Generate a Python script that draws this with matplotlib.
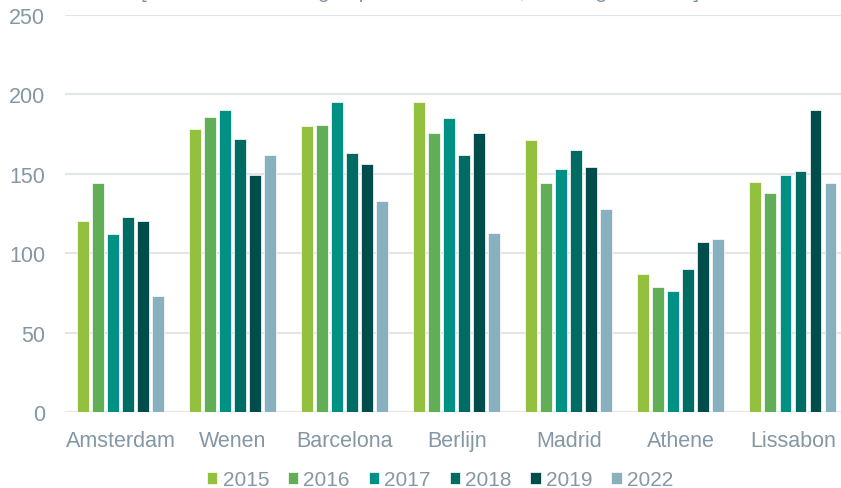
import matplotlib.pyplot as plt
import numpy as np

steden = ['Amsterdam', 'Wenen', 'Barcelona', 'Berlijn', 'Madrid', 'Athene', 'Lissabon']
jaren = ['2015', '2016', '2017', '2018', '2019', '2022']
w2015 = [120, 178, 180, 195, 171, 87, 145]
w2016 = [144, 186, 181, 176, 144, 79, 138]
w2017 = [112, 190, 195, 185, 153, 76, 149]
w2018 = [123, 172, 163, 162, 165, 90, 152]
w2019 = [120, 149, 156, 176, 154, 107, 190]
w2022 = [73, 162, 133, 113, 128, 109, 144]
kleuren = ['#93c13e', '#61ae56', '#009084', '#006b62', '#004d4c', '#88b1bf']
tekst = '#8497a4'

plt.rcParams['font.family'] = ['Liberation Sans', 'DejaVu Sans']

fig = plt.figure(figsize=(8.41, 4.89), dpi=100)
ax = fig.add_axes([64.5 / 841, 1 - 413 / 489, (849 - 64.5) / 841, (413 - 16) / 489])

x = np.arange(len(steden))
stap = 0.134
reeksen = [w2015, w2016, w2017, w2018, w2019, w2022]
for i, s in enumerate(reeksen):
    ax.bar(x + (i - 2.5) * stap, s, width=0.106, color=kleuren[i], label=jaren[i],
           edgecolor='white', linewidth=0.5, zorder=3)

ax.set_xlim(-0.5, len(steden) - 0.5)
ax.set_ylim(0, 250)
ax.set_yticks(range(0, 251, 50))
ax.set_xticks(x)
ax.set_xticklabels(steden)
ax.grid(axis='y', color='#e1e6ea', linewidth=1.5, zorder=0)
ax.tick_params(length=0, labelsize=15.5, labelcolor=tekst)
ax.tick_params(axis='x', pad=13)
ax.tick_params(axis='y', pad=14)
for sp in ax.spines.values():
    sp.set_visible(False)
ax.axhline(0, color='#e1e6ea', linewidth=1.5, zorder=1)

# ondertitel valt grotendeels buiten beeld, net als in het origineel
fig.text(0.5, 1 + 7 / 489, '[aantal overnachtingen per 100 inwoners, excl. ingezetenen]',
         ha='center', va='center', fontsize=15, color=tekst)

fig.legend(loc='center', bbox_to_anchor=(440 / 841, 1 - 481 / 489), ncol=6, frameon=False,
           fontsize=15, labelcolor=tekst, handlelength=0.5, handleheight=0.5,
           handletextpad=0.25, columnspacing=0.9)

fig.savefig('out.png', dpi=100)
